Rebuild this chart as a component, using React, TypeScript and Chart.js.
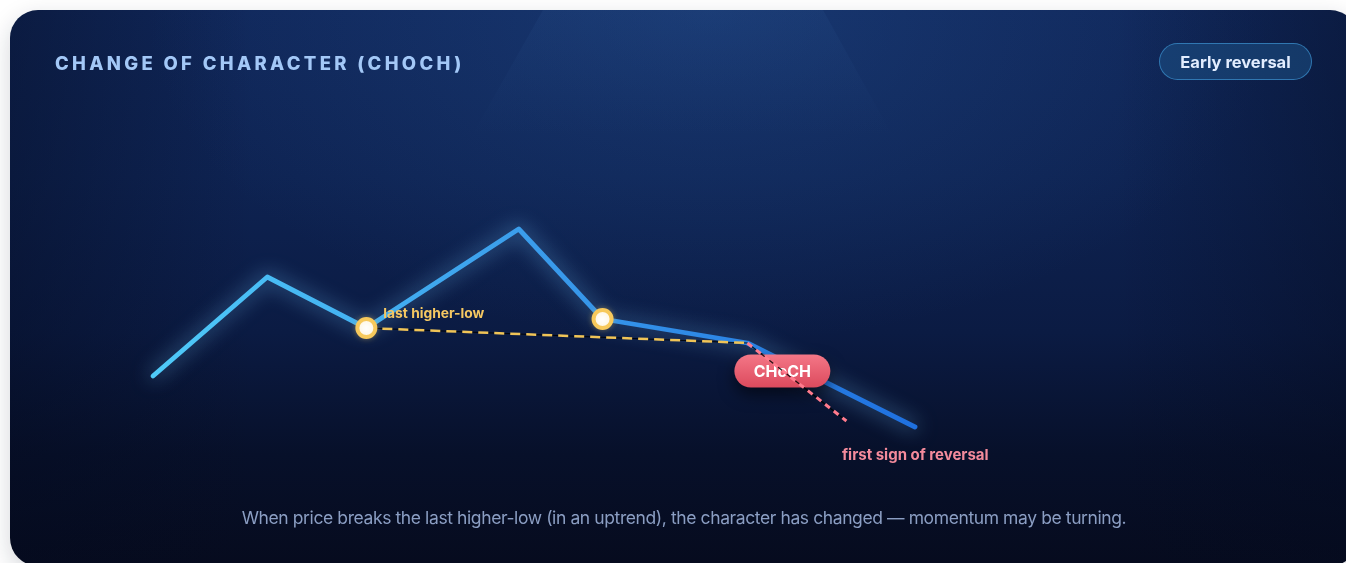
import React, { useEffect, useRef } from "react";
import { Chart, registerables } from "chart.js";

Chart.register(...registerables);

// ---- data ----
const TITLE = "CHANGE OF CHARACTER (CHOCH)";
const BADGE = "Early reversal";
const CAPTION =
  "When price breaks the last higher-low (in an uptrend), the character has changed \u2014 momentum may be turning.";

const swingX = [0, 15, 28, 48, 59, 78, 100];
const swingPrice = [34, 67, 50, 83, 53, 45, 17];
const higherLowIdx = [2, 4];
const structureX = [28, 78];
const structurePrice = [50, 45];
const breakX = [78, 91];
const breakPrice = [45, 19];
const labelHigherLow = "last higher-low";
const labelChoch = "CHoCH";
const labelReversal = "first sign of reversal";

const CARD_W = 1348;
const CARD_H = 556;
const FONT = "Inter, 'Noto Sans', sans-serif";

const pts = (xs: number[], ys: number[]) => xs.map((x, i) => ({ x, y: ys[i] }));

function roundRect(ctx: CanvasRenderingContext2D, x: number, y: number, w: number, h: number, r: number) {
  ctx.beginPath();
  ctx.moveTo(x + r, y);
  ctx.lineTo(x + w - r, y);
  ctx.arc(x + w - r, y + r, r, -Math.PI / 2, 0);
  ctx.lineTo(x + w, y + h - r);
  ctx.arc(x + w - r, y + h - r, r, 0, Math.PI / 2);
  ctx.lineTo(x + r, y + h);
  ctx.arc(x + r, y + h - r, r, Math.PI / 2, Math.PI);
  ctx.lineTo(x, y + r);
  ctx.arc(x + r, y + r, r, Math.PI, Math.PI * 1.5);
  ctx.closePath();
}

const fxPlugin = {
  id: "fx",
  beforeDatasetDraw(chart: any, args: any) {
    const ds = chart.data.datasets[args.index];
    const ctx = chart.ctx as CanvasRenderingContext2D;
    ctx.save();
    if (ds.glowColor) {
      ctx.shadowColor = ds.glowColor;
      ctx.shadowBlur = ds.glowBlur;
    }
  },
  afterDatasetDraw(chart: any, args: any) {
    const ctx = chart.ctx as CanvasRenderingContext2D;
    ctx.restore();
    const xs = chart.scales.x;
    const ys = chart.scales.y;
    if (args.index === 2) {
      // CHoCH pill, anchored at the break point
      const bx = xs.getPixelForValue(breakX[0]);
      const by = ys.getPixelForValue(breakPrice[0]);
      const w = 96, h = 33;
      const cx = bx + 35, cy = by + 28;
      ctx.save();
      ctx.shadowColor = "rgba(0,0,0,0.55)";
      ctx.shadowBlur = 16;
      ctx.shadowOffsetY = 7;
      const g = ctx.createLinearGradient(0, cy - h / 2, 0, cy + h / 2);
      g.addColorStop(0, "#f47787");
      g.addColorStop(1, "#dc4a5d");
      ctx.fillStyle = g;
      roundRect(ctx, cx - w / 2, cy - h / 2, w, h, h / 2);
      ctx.fill();
      ctx.restore();
      ctx.save();
      ctx.fillStyle = "#ffffff";
      ctx.font = `700 16px ${FONT}`;
      ctx.textAlign = "center";
      ctx.textBaseline = "middle";
      ctx.fillText(labelChoch, cx, cy + 1);
      ctx.restore();
    }
  },
  afterDatasetsDraw(chart: any) {
    const ctx = chart.ctx as CanvasRenderingContext2D;
    const xs = chart.scales.x;
    const ys = chart.scales.y;
    ctx.save();
    ctx.textBaseline = "middle";
    ctx.textAlign = "left";
    const i = higherLowIdx[0];
    ctx.font = `700 13.8px ${FONT}`;
    ctx.fillStyle = "#f5c862";
    ctx.fillText(labelHigherLow, xs.getPixelForValue(swingX[i]) + 17, ys.getPixelForValue(swingPrice[i]) - 14);
    const j = swingX.length - 1;
    ctx.font = `700 15px ${FONT}`;
    ctx.fillStyle = "#f48b9c";
    ctx.fillText(labelReversal, xs.getPixelForValue(swingX[j]) - 73, ys.getPixelForValue(swingPrice[j]) + 28);
    ctx.restore();
  },
};

export default function App() {
  const ref = useRef<HTMLCanvasElement>(null);

  useEffect(() => {
    if (!ref.current) return;
    const chart = new Chart(ref.current, {
      type: "line",
      data: {
        datasets: [
          {
            data: pts(breakX, breakPrice),
            borderColor: "#ff7b8d",
            borderWidth: 3,
            borderDash: [6, 5],
            pointRadius: 0,
            clip: false,
          } as any,
          {
            data: pts(breakX, breakPrice),
            borderColor: "rgba(0,0,0,0.85)",
            borderWidth: 1.2,
            pointRadius: 0,
            clip: false,
          } as any,
          {
            data: higherLowIdx.map((k) => ({ x: swingX[k], y: swingPrice[k] })),
            showLine: false,
            pointRadius: 9,
            pointBorderWidth: 4,
            pointBackgroundColor: "#ffffff",
            pointBorderColor: "#f7c95c",
            glowColor: "rgba(247,201,92,0.3)",
            glowBlur: 6,
            clip: false,
          } as any,
          {
            data: pts(structureX, structurePrice),
            borderColor: "#f0c457",
            borderWidth: 2.5,
            borderDash: [10, 6],
            pointRadius: 0,
            clip: false,
          } as any,
          {
            data: pts(structureX, structurePrice),
            borderColor: "rgba(0,0,0,0.85)",
            borderWidth: 1.2,
            pointRadius: 0,
            clip: false,
          } as any,
          {
            data: pts(swingX, swingPrice),
            borderWidth: 4.8,
            borderCapStyle: "round",
            borderJoinStyle: "round",
            pointRadius: 0,
            tension: 0,
            glowColor: "rgba(120,200,255,0.7)",
            glowBlur: 20,
            clip: false,
            borderColor: (c: any) => {
              const area = c.chart.chartArea;
              if (!area) return "#3aa0ec";
              const g = c.chart.ctx.createLinearGradient(area.left, 0, area.right, 0);
              g.addColorStop(0, "#4fcaf8");
              g.addColorStop(0.5, "#3a9ceb");
              g.addColorStop(1, "#1f70df");
              return g;
            },
          } as any,
        ],
      },
      options: {
        animation: false,
        responsive: false,
        events: [],
        layout: { padding: { left: 143, right: CARD_W - 905, top: 168, bottom: CARD_H - 468 }, autoPadding: false } as any,
        scales: {
          x: { type: "linear", min: 0, max: 100, display: false },
          y: { type: "linear", min: 0, max: 100, display: false },
        },
        plugins: { legend: { display: false }, tooltip: { enabled: false } },
      },
      plugins: [fxPlugin],
    });
    return () => chart.destroy();
  }, []);

  return (
    <div style={{ position: "fixed", inset: 0, overflow: "hidden", background: "#ffffff" }}>
      <div
        style={{
          position: "absolute",
          left: 10,
          top: 10,
          width: CARD_W,
          height: CARD_H,
          borderRadius: 28,
          overflow: "hidden",
          boxShadow: "0 8px 24px rgba(15,25,50,0.18)",
          background:
            "linear-gradient(90deg, rgba(4,10,30,0.4) 0%, rgba(4,10,30,0) 18%, rgba(4,10,30,0) 82%, rgba(4,10,30,0.4) 100%), radial-gradient(ellipse 42% 60% at 52% 0%, rgba(40,90,160,0.32), rgba(40,90,160,0) 100%), linear-gradient(180deg, #10275a 0%, #0e2352 30%, #0b1b43 58%, #07102a 80%, #060b1e 100%)",
          fontFamily: FONT,
        }}
      >
        <div
          style={{
            position: "absolute",
            left: 430,
            top: 0,
            width: 480,
            height: 150,
            clipPath: "polygon(103px 0, 383px 0, 466px 150px, 18px 150px)",
            background: "linear-gradient(180deg, rgba(70,125,190,0.08) 0%, rgba(70,125,190,0.03) 50%, rgba(70,125,190,0) 85%)",
          }}
        />
        <canvas
          ref={ref}
          width={CARD_W}
          height={CARD_H}
          style={{ position: "absolute", left: 0, top: 0, width: CARD_W, height: CARD_H }}
        />
        <div
          style={{
            position: "absolute",
            left: 45,
            top: 42,
            lineHeight: "22px",
            fontSize: 18.5,
            fontWeight: 800,
            letterSpacing: 3.32,
            color: "#a3c8f7",
            whiteSpace: "nowrap",
          }}
        >
          {TITLE}
        </div>
        <div
          style={{
            position: "absolute",
            left: 1149,
            top: 33,
            width: 153,
            height: 37,
            boxSizing: "border-box",
            borderRadius: 19,
            border: "1.5px solid rgba(55,135,195,0.8)",
            background: "rgba(30,85,140,0.5)",
            color: "#e2edff",
            fontSize: 16.5,
            fontWeight: 700,
            display: "flex",
            alignItems: "center",
            justifyContent: "center",
          }}
        >
          {BADGE}
        </div>
        <div
          style={{
            position: "absolute",
            left: 0,
            width: CARD_W,
            top: 497,
            lineHeight: "22px",
            textAlign: "center",
            fontSize: 17.5,
            color: "#8b9ec3",
            whiteSpace: "nowrap",
            letterSpacing: -0.4,
          }}
        >
          {CAPTION}
        </div>
      </div>
    </div>
  );
}
